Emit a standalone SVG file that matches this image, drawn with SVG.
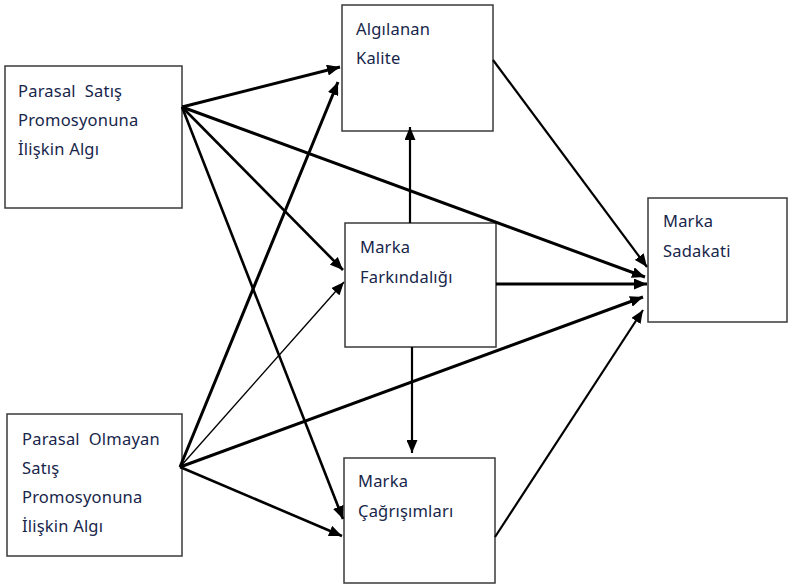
<svg xmlns="http://www.w3.org/2000/svg" width="790" height="585" viewBox="0 0 790 585">
<style>
  .box { fill: #ffffff; stroke: #3a3a3a; stroke-width: 1.5; }
  .lbl { font-family: "Noto Sans", "Open Sans", sans-serif; font-size: 16.5px; fill: #17264a; letter-spacing: 0.2px; white-space: pre; }
  .c { stroke: #000; fill: none; marker-end: url(#ah); }
  .w3 { stroke-width: 3; }
  .w25 { stroke-width: 2.6; }
  .w2 { stroke-width: 2.2; }
  .w1 { stroke-width: 1.4; }
</style>
<defs>
  <marker id="ah" markerUnits="userSpaceOnUse" markerWidth="13" markerHeight="11" refX="13" refY="5.5" orient="auto">
    <path d="M0,0 L13,5.5 L0,11 z" fill="#000"/>
  </marker>
</defs>
<rect width="790" height="585" fill="#ffffff"/>

<g id="node-parasal">
  <rect class="box" x="5" y="66" width="177" height="142"/>
  <text class="lbl" xml:space="preserve" x="18" y="97">Parasal  Satış</text>
  <text class="lbl" x="18" y="126">Promosyonuna</text>
  <text class="lbl" x="18" y="155">İlişkin Algı</text>
</g>

<g id="node-parasal-olmayan">
  <rect class="box" x="7" y="414" width="175" height="142"/>
  <text class="lbl" xml:space="preserve" x="22" y="445">Parasal  Olmayan</text>
  <text class="lbl" x="22" y="474">Satış</text>
  <text class="lbl" x="22" y="503">Promosyonuna</text>
  <text class="lbl" x="22" y="532">İlişkin Algı</text>
</g>

<g id="node-kalite">
  <rect class="box" x="342" y="5" width="151" height="126"/>
  <text class="lbl" x="356" y="35">Algılanan</text>
  <text class="lbl" x="356" y="64">Kalite</text>
</g>

<g id="node-farkindalik">
  <rect class="box" x="345" y="223" width="151" height="124"/>
  <text class="lbl" x="360" y="253">Marka</text>
  <text class="lbl" x="360" y="283">Farkındalığı</text>
</g>

<g id="node-cagrisim">
  <rect class="box" x="344" y="458" width="151" height="125"/>
  <text class="lbl" x="358" y="487">Marka</text>
  <text class="lbl" x="358" y="517">Çağrışımları</text>
</g>

<g id="node-sadakat">
  <rect class="box" x="648" y="198" width="139" height="124"/>
  <text class="lbl" x="663" y="227">Marka</text>
  <text class="lbl" x="663" y="257">Sadakati</text>
</g>

<g id="connectors">
  <line class="c w3" x1="182" y1="107" x2="340" y2="67"/>
  <line class="c w3" x1="182" y1="107" x2="645" y2="277"/>
  <line class="c w25" x1="182" y1="107" x2="343" y2="270"/>
  <line class="c w25" x1="182" y1="107" x2="343" y2="519"/>
  <line class="c w3" x1="180" y1="467" x2="338" y2="82"/>
  <line class="c w1" x1="180" y1="467" x2="344" y2="282"/>
  <line class="c w3" x1="180" y1="467" x2="643" y2="297"/>
  <line class="c w25" x1="180" y1="467" x2="342" y2="536"/>
  <line class="c w2" x1="493" y1="60" x2="647" y2="267"/>
  <line class="c w3" x1="496" y1="284" x2="647" y2="284"/>
  <line class="c w2" x1="495" y1="537" x2="643" y2="310"/>
  <line class="c w2" x1="410" y1="223" x2="410" y2="127"/>
  <line class="c w2" x1="412" y1="347" x2="412" y2="453"/>
</g>
</svg>
